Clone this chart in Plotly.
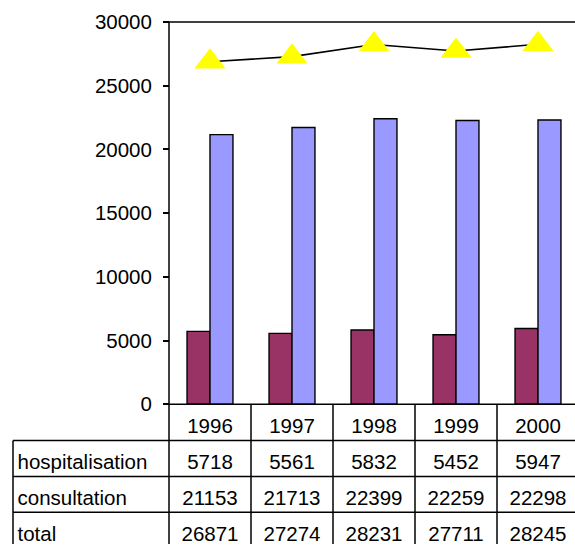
import plotly.graph_objects as go

years = ["1996", "1997", "1998", "1999", "2000"]
hospitalisation = [5718, 5561, 5832, 5452, 5947]
consultation = [21153, 21713, 22399, 22259, 22298]
total = [26871, 27274, 28231, 27711, 28245]
row_labels = ["hospitalisation", "consultation", "total"]
y_ticks = [0, 5000, 10000, 15000, 20000, 25000, 30000]

W, H = 575, 545
FONT = "Liberation Sans, Arial, sans-serif"
FS = 20.5

# geometry (pixels)
AX_PX = 169.0      # y-axis line
CAT_W = 82.0       # category width
Y0_PX, YTOP_PX = 404.5, 20.0
ROW_H, ROW0_C = 36.0, 423.0
LABEL_LEFT_PX = 13.0
TEXT_SHIFT = 5.5 / ROW_H   # text sits slightly below row centre

def px_to_x(px):
    return (px - AX_PX) / CAT_W - 0.5

x_min, x_max = px_to_x(0), px_to_x(W)
scale = y_ticks[-1] / (Y0_PX - YTOP_PX)
y_dom_top_px, y_dom_bot_px = 10.0, 414.5
y_range = [-(y_dom_bot_px - Y0_PX) * scale, y_ticks[-1] + (YTOP_PX - y_dom_top_px) * scale]
y_domain = [(H - y_dom_bot_px) / H, (H - y_dom_top_px) / H]

t_dom_top_px = 395.0
r_top = (t_dom_top_px - ROW0_C) / ROW_H
r_bot = (H - ROW0_C) / ROW_H
t_domain = [0, (H - t_dom_top_px) / H]

idx = list(range(len(years)))
fig = go.Figure()
fig.add_trace(go.Bar(x=idx, y=hospitalisation, name="hospitalisation",
                     marker=dict(color="#993366", line=dict(color="black", width=1.4)),
                     width=0.28, offset=-0.28, yaxis="y"))
fig.add_trace(go.Bar(x=idx, y=consultation, name="consultation",
                     marker=dict(color="#9999FF", line=dict(color="black", width=1.4)),
                     width=0.28, offset=0.0, yaxis="y"))
fig.add_trace(go.Scatter(x=idx, y=total, name="total", mode="lines+markers",
                         line=dict(color="black", width=1.6),
                         marker=dict(symbol="triangle-up", size=27, color="#FFFF00",
                                     line=dict(width=0)),
                         yaxis="y", cliponaxis=False))

tfont = dict(family=FONT, size=FS, color="black")
# header row
fig.add_trace(go.Scatter(x=idx, y=[0 + TEXT_SHIFT] * len(years), text=years, mode="text",
                         textfont=tfont, textposition="middle center",
                         yaxis="y2", cliponaxis=True, hoverinfo="skip"))
for r, vals in enumerate([hospitalisation, consultation, total], start=1):
    fig.add_trace(go.Scatter(x=idx, y=[r + TEXT_SHIFT] * len(vals), text=[str(v) for v in vals],
                             mode="text", textfont=tfont, textposition="middle center",
                             yaxis="y2", cliponaxis=True, hoverinfo="skip"))
fig.add_trace(go.Scatter(x=[px_to_x(LABEL_LEFT_PX + 4.5)] * 3,
                         y=[r + TEXT_SHIFT for r in (1, 2, 3)], text=row_labels,
                         mode="text", textfont=tfont, textposition="middle right",
                         yaxis="y2", cliponaxis=True, hoverinfo="skip"))

LW = 1.5
line = dict(color="black", width=LW)
shapes = []
# chart axis line, top border, x axis line
shapes.append(dict(type="line", xref="x", yref="y", x0=-0.5, x1=-0.5, y0=0, y1=y_ticks[-1], line=line))
shapes.append(dict(type="line", xref="x", yref="y", x0=-0.5, x1=x_max + 1, y0=y_ticks[-1], y1=y_ticks[-1], line=line))
shapes.append(dict(type="line", xref="x", yref="y", x0=-0.5, x1=x_max + 1, y0=0, y1=0, line=line))
# table verticals
for k in range(len(years)):
    shapes.append(dict(type="line", xref="x", yref="y2", x0=k - 0.5, x1=k - 0.5,
                       y0=-0.5, y1=r_bot + 1, line=line))
label_left = px_to_x(LABEL_LEFT_PX)
shapes.append(dict(type="line", xref="x", yref="y2", x0=label_left, x1=label_left,
                   y0=0.5, y1=r_bot + 1, line=line))
for r in range(len(row_labels)):
    shapes.append(dict(type="line", xref="x", yref="y2", x0=label_left, x1=x_max + 1,
                       y0=r + 0.5, y1=r + 0.5, line=line))

fig.update_layout(
    width=W, height=H,
    margin=dict(l=0, r=0, t=0, b=0),
    paper_bgcolor="white", plot_bgcolor="rgba(0,0,0,0)",
    showlegend=False,
    barmode="overlay",
    font=dict(family=FONT, size=FS, color="black"),
    shapes=shapes,
    xaxis=dict(range=[x_min, x_max], domain=[0, 1], showticklabels=False, ticks="",
               showline=False, showgrid=False, zeroline=False, fixedrange=True),
    yaxis=dict(range=y_range, domain=y_domain, anchor="free", position=AX_PX / W,
               tickvals=y_ticks, ticktext=[str(v) for v in y_ticks],
               ticks="outside", ticklen=6, tickwidth=LW, tickcolor="black",
               ticklabelstandoff=7,
               tickfont=dict(family=FONT, size=FS, color="black"),
               showline=False, showgrid=False, zeroline=False),
    yaxis2=dict(range=[r_bot, r_top], domain=t_domain, anchor="x", visible=False,
                showgrid=False, zeroline=False),
)

fig.write_html("out.html")
